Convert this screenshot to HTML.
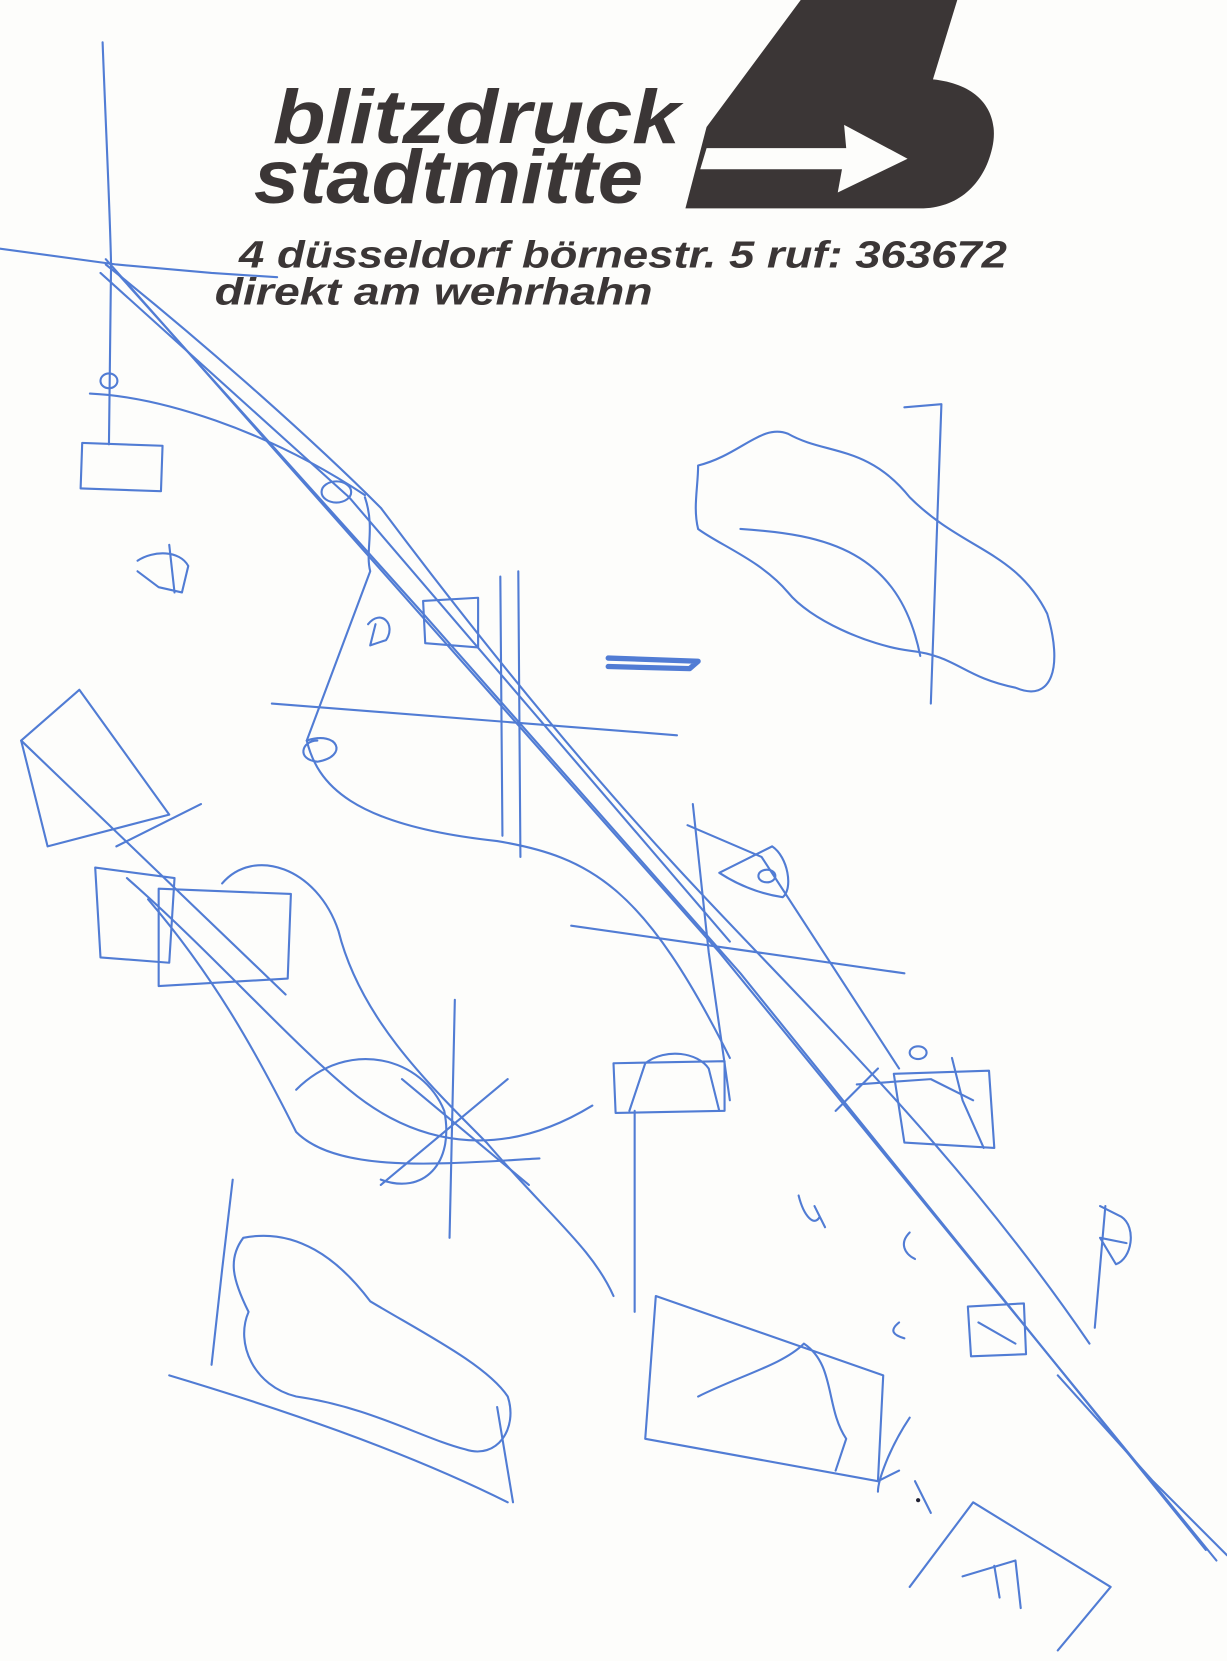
<!DOCTYPE html>
<html><head><meta charset="utf-8"><style>
html,body{margin:0;padding:0;background:#fdfdfb;}
svg{display:block}
</style></head><body>
<svg width="1227" height="1661" viewBox="0 0 1160 1570" preserveAspectRatio="none" xmlns="http://www.w3.org/2000/svg">
<rect width="1160" height="1570" fill="#fdfdfb"/>
<!-- logo -->
<path d="M757 0 L905 0 L882 75 C930 80 945 110 938 140 C930 175 905 197 870 197 L648 197 L668 120 Z" fill="#3b3636"/>
<path d="M668 140 L800 140 L798 118 L858 150 L792 182 L796 160 L662 160 Z" fill="#fdfdfb"/>
<g font-family="Liberation Sans, sans-serif" font-weight="bold" font-style="italic" fill="#3b3636">
<text x="258" y="135" font-size="72" textLength="385" lengthAdjust="spacingAndGlyphs">blitzdruck</text>
<text x="240" y="192" font-size="72" textLength="368" lengthAdjust="spacingAndGlyphs">stadtmitte</text>
<text x="226" y="253" font-size="36" textLength="726" lengthAdjust="spacingAndGlyphs">4 düsseldorf börnestr. 5 ruf: 363672</text>
<text x="203" y="288" font-size="36" textLength="414" lengthAdjust="spacingAndGlyphs">direkt am wehrhahn</text>
</g>
<!-- sketch -->
<g fill="none" stroke="#3f6fd0" stroke-width="2" stroke-linecap="round" stroke-linejoin="round" opacity="0.9">
<path d="M97 40 C100 120 104 200 105 250 L103 420"/>
<path d="M0 235 L110 250 L200 258 L262 262"/>
<path d="M100 245 L680 900 L1150 1475"/>
<path d="M108 255 L400 580 L700 920 L1140 1465"/>
<path d="M100 250 C200 330 300 420 360 480 C420 560 520 690 640 820 C760 950 900 1080 1030 1270"/>
<path d="M95 258 L330 470 L690 890"/>
<rect x="77" y="420" width="76" height="43" transform="rotate(2 115 440)"/>
<ellipse cx="103" cy="360" rx="8" ry="7"/>
<path d="M85 372 C150 375 250 405 345 468"/>
<ellipse cx="318" cy="465" rx="14" ry="10"/>
<path d="M345 470 C355 500 345 520 350 540 L290 700 C300 740 330 780 470 795 C560 810 610 840 690 1000"/>
<path d="M290 700 C320 690 330 715 300 720 C280 718 285 700 300 700"/>
<path d="M257 665 L640 695"/>
<path d="M490 540 L492 810"/>
<path d="M473 545 L475 790"/>
<path d="M400 568 L452 565 L452 612 L402 608 Z"/>
<path d="M348 590 C360 575 375 590 365 605 L350 610 L355 590"/>
<path d="M575 622 L660 625 L652 632 L575 630" stroke-width="5"/>
<path d="M660 440 C700 430 720 400 745 410 C780 430 820 420 860 470 C910 520 960 520 990 580 C1005 630 995 665 960 650 C910 640 905 620 860 615 C820 610 765 585 745 560 C720 530 680 515 660 500 C655 480 660 460 660 440"/>
<path d="M855 385 L890 382 L880 665"/>
<path d="M700 500 C780 505 850 520 870 620"/>
<path d="M130 530 C145 520 170 520 178 535 L172 560 L150 555 L130 540 M160 515 L165 560"/>
<path d="M20 700 L75 652 L160 770 L45 800 Z"/>
<path d="M20 700 L270 940"/>
<path d="M110 800 L190 760"/>
<path d="M90 820 L165 830 L160 910 L95 905 Z"/>
<path d="M150 840 L275 845 L272 925 L150 932 Z"/>
<path d="M210 835 C240 800 300 820 320 880 C340 960 400 1020 460 1080 C520 1150 560 1180 580 1225"/>
<path d="M120 830 C200 900 270 980 330 1030 C390 1080 470 1100 560 1045"/>
<path d="M140 850 C200 920 240 990 280 1070 C320 1110 420 1100 510 1095"/>
<path d="M280 1030 C330 980 400 1000 420 1050 C430 1100 400 1130 360 1115"/>
<path d="M430 945 L425 1170"/>
<path d="M360 1120 L480 1020 M380 1020 L500 1120"/>
<path d="M580 1005 L685 1003 L685 1050 L582 1052 Z"/>
<path d="M595 1050 L610 1005 C630 990 660 995 670 1010 L680 1050"/>
<path d="M655 760 L670 900 L690 1040"/>
<path d="M540 875 L855 920"/>
<path d="M680 825 L730 800 C745 810 750 840 740 848 C720 845 700 838 680 825 Z"/>
<ellipse cx="725" cy="828" rx="8" ry="6"/>
<path d="M650 780 L720 810 L850 1010"/>
<path d="M600 1050 L600 1240"/>
<path d="M845 1015 L935 1012 L940 1085 L855 1080 Z"/>
<path d="M810 1025 L880 1020 L920 1040 M790 1050 L830 1010"/>
<path d="M900 1000 L910 1040 L930 1085"/>
<ellipse cx="868" cy="995" rx="8" ry="6"/>
<path d="M1040 1140 L1060 1150 C1075 1160 1070 1190 1055 1195 L1040 1170 L1065 1175 M1045 1140 L1035 1255"/>
<path d="M915 1235 L968 1232 L970 1280 L918 1282 Z M925 1250 L960 1270"/>
<path d="M755 1130 C760 1150 770 1160 775 1150 M770 1140 L780 1160"/>
<path d="M860 1165 C850 1175 855 1185 865 1190"/>
<path d="M850 1250 C840 1258 845 1262 855 1265"/>
<path d="M220 1115 L210 1200 L200 1290"/>
<path d="M230 1170 C280 1160 320 1190 350 1230 C400 1260 460 1290 480 1320 C490 1350 470 1380 440 1370 C400 1360 350 1330 280 1320 C240 1310 222 1270 235 1240 C220 1210 215 1190 230 1170 Z"/>
<path d="M160 1300 C260 1330 380 1370 480 1420"/>
<path d="M470 1330 L485 1420"/>
<path d="M620 1225 L835 1300 L830 1400 L610 1360 Z"/>
<path d="M660 1320 C700 1300 740 1290 760 1270 C790 1290 780 1330 800 1360 L790 1390"/>
<path d="M830 1400 L850 1390 M860 1340 C840 1370 830 1400 830 1410"/>
<path d="M865 1400 L880 1430"/>
<path d="M860 1500 L920 1420 L1050 1500 L1000 1560"/>
<path d="M910 1490 L960 1475 L965 1520 M940 1480 L945 1510"/>
<path d="M1000 1300 L1090 1400 L1160 1470"/>
</g>
<circle cx="868" cy="1418" r="2" fill="#223"/>
</svg>
</body></html>
